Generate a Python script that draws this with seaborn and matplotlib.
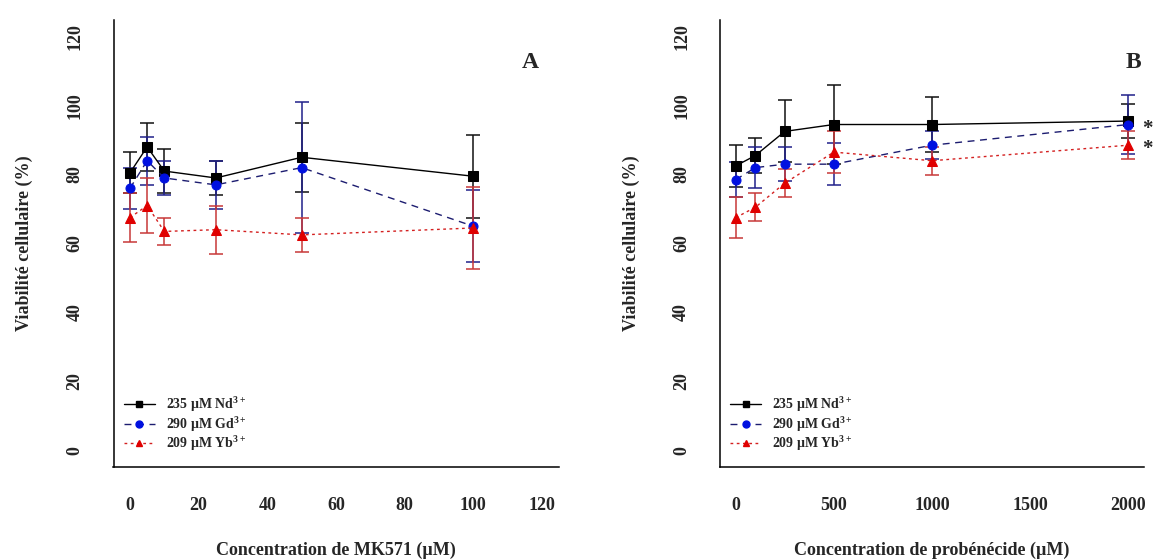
import numpy as np
import pandas as pd
import matplotlib
matplotlib.use("Agg")
import matplotlib.pyplot as plt
import seaborn as sns
from matplotlib.lines import Line2D

sns.set_theme(style="white")
plt.rcParams["font.family"] = ["Liberation Serif", "DejaVu Serif"]
plt.rcParams["font.weight"] = "bold"
plt.rcParams["mathtext.fontset"] = "custom"
plt.rcParams["mathtext.rm"] = "Liberation Serif:bold"
plt.rcParams["mathtext.it"] = "Liberation Serif:bold"
plt.rcParams["mathtext.bf"] = "Liberation Serif:bold"

# Panel A: MK571 concentrations (µM)
mk_conc = [0, 5, 10, 25, 50, 100]
mk_nd_mean = [80.5, 88.0, 81.0, 79.0, 85.0, 79.5]
mk_nd_sd = [6.0, 7.0, 6.5, 5.0, 10.0, 12.0]
mk_gd_mean = [76.0, 84.0, 79.0, 77.0, 82.0, 65.0]
mk_gd_sd = [6.0, 7.0, 5.0, 7.0, 19.0, 10.5]
mk_yb_mean = [67.5, 71.0, 63.5, 64.0, 62.5, 64.5]
mk_yb_sd = [7.0, 8.0, 4.0, 7.0, 5.0, 12.0]

# Panel B: probenecid concentrations (µM)
pb_conc = [0, 100, 250, 500, 1000, 2000]
pb_nd_mean = [82.5, 85.5, 92.5, 94.5, 94.5, 95.5]
pb_nd_sd = [6.0, 5.0, 9.0, 11.5, 8.0, 5.0]
pb_gd_mean = [78.5, 82.0, 83.0, 83.0, 88.5, 94.5]
pb_gd_sd = [5.0, 6.0, 5.0, 6.0, 4.0, 8.5]
pb_yb_mean = [67.5, 70.5, 77.5, 86.5, 84.0, 88.5]
pb_yb_sd = [6.0, 4.0, 4.0, 6.0, 4.0, 4.0]

series_labels = ["235 µM Nd$^{3+}$", "290 µM Gd$^{3+}$", "209 µM Yb$^{3+}$"]
line_colors = ["#000000", "#1c1c70", "#d42020"]
marker_colors = ["#000000", "#0010e0", "#e00000"]
err_colors = ["#111111", "#20208a", "#c83838"]
line_styles = ["-", (0, (5, 4)), (0, (2, 2.5))]
markers = ["s", "o", "^"]
marker_sizes = [7, 6.5, 7]

fig = plt.figure(figsize=(11.56, 5.6), dpi=100)
ax_a = fig.add_axes([113.5 / 1156, 93 / 560, 445 / 1156, 447 / 560])
ax_b = fig.add_axes([720 / 1156, 93 / 560, 424 / 1156, 447 / 560])


def draw_panel(ax, conc, means, sds, xlim, xticks, xlabel, letter, letter_x):
    for i, (m, s) in enumerate(zip(means, sds)):
        df = pd.DataFrame({"conc": conc, "viab": m})
        ax.errorbar(conc, m, yerr=s, fmt="none", ecolor=err_colors[i],
                    elinewidth=1.1, capsize=5, capthick=1.1, zorder=2)
        sns.lineplot(data=df, x="conc", y="viab", ax=ax, color=line_colors[i],
                     linestyle=line_styles[i], linewidth=1.0, errorbar=None,
                     marker=markers[i], markersize=marker_sizes[i],
                     markerfacecolor=marker_colors[i],
                     markeredgecolor=marker_colors[i], zorder=3)
    ax.set_xlim(*xlim)
    ax.set_ylim(-4.8, 124.8)
    ax.set_xticks(xticks)
    ax.set_yticks([0, 20, 40, 60, 80, 100, 120])
    ax.tick_params(axis="both", direction="out", length=9.5, width=1.0,
                   labelsize=13, color="black")
    ax.tick_params(axis="x", pad=12)
    ax.tick_params(axis="y", pad=12)
    for lab in ax.get_yticklabels():
        lab.set_rotation(90)
        lab.set_va("center")
        lab.set_fontweight("bold")
    for lab in ax.get_xticklabels():
        lab.set_fontweight("bold")
    ax.set_xlabel(xlabel, fontsize=13, fontweight="bold", labelpad=20)
    ax.set_ylabel("Viabilité cellulaire (%)", fontsize=13, fontweight="bold",
                  labelpad=24)
    for side in ["top", "right"]:
        ax.spines[side].set_visible(False)
    for side in ["left", "bottom"]:
        ax.spines[side].set_color("black")
        ax.spines[side].set_linewidth(1.1)
    ax.text(letter_x, 0.905, letter, transform=ax.transAxes, fontsize=17,
            fontweight="bold", ha="center", va="center")
    handles = [Line2D([0], [0], color=line_colors[i], linestyle=line_styles[i],
                      linewidth=1.0, marker=markers[i], markersize=5,
                      markerfacecolor=marker_colors[i],
                      markeredgecolor=marker_colors[i]) for i in range(3)]
    ax.legend(handles, series_labels, loc="lower left",
              bbox_to_anchor=(0.005, 0.012), frameon=False, fontsize=10,
              handlelength=2.2, handletextpad=0.8, labelspacing=0.05,
              borderaxespad=0.2)


draw_panel(ax_a, mk_conc, [mk_nd_mean, mk_gd_mean, mk_yb_mean],
           [mk_nd_sd, mk_gd_sd, mk_yb_sd], (-4.8, 124.8),
           [0, 20, 40, 60, 80, 100, 120], "Concentration de MK571 (µM)", "A",
           0.936)
draw_panel(ax_b, pb_conc, [pb_nd_mean, pb_gd_mean, pb_yb_mean],
           [pb_nd_sd, pb_gd_sd, pb_yb_sd], (-80, 2080),
           [0, 500, 1000, 1500, 2000], "Concentration de probénécide (µM)", "B",
           0.975)

# significance marks next to the last probenecid points
for mean in (pb_gd_mean[-1], pb_yb_mean[-1]):
    ax_b.annotate("*", xy=(pb_conc[-1], mean), xytext=(14, -3),
                  textcoords="offset points", fontsize=15, fontweight="bold",
                  ha="center", va="center", annotation_clip=False)

fig.savefig("out.png", dpi=100, facecolor="white")
